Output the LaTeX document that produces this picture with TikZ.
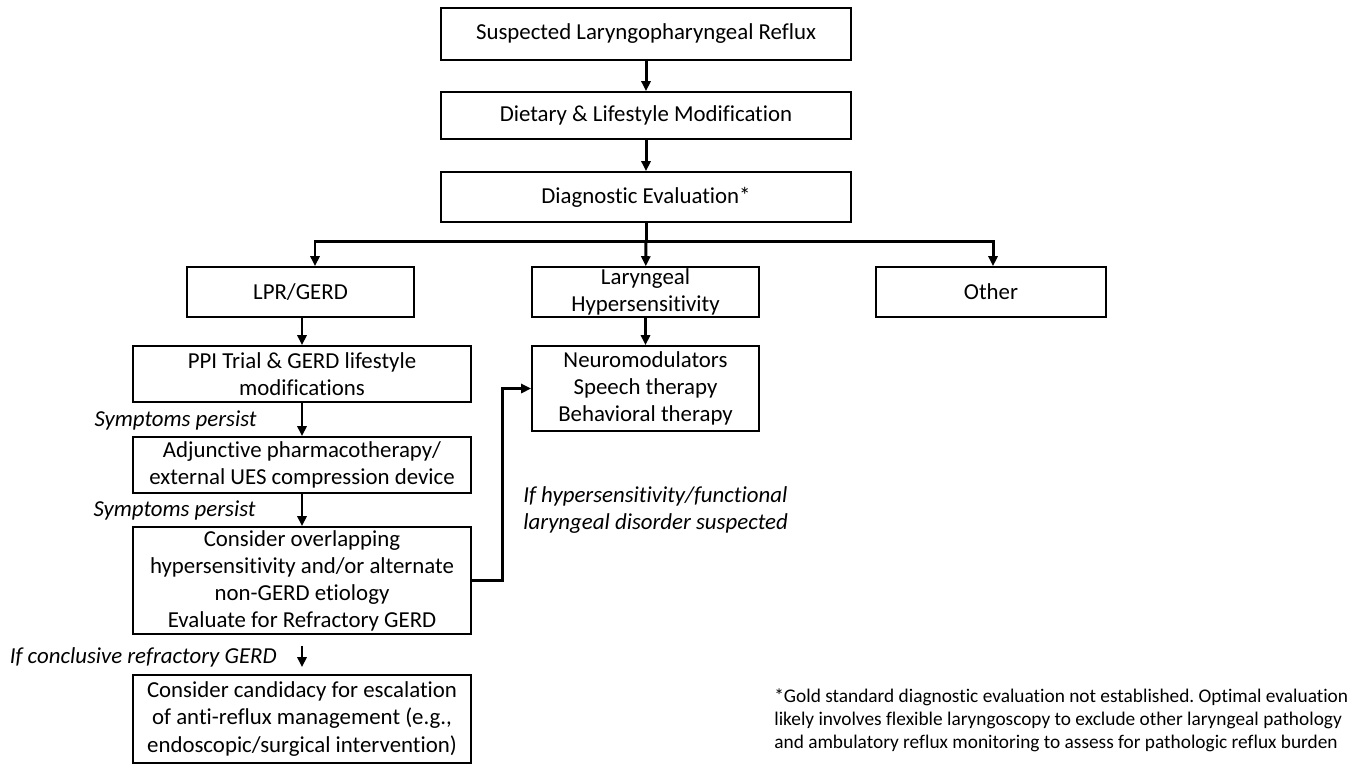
\documentclass[tikz,border=0pt]{standalone}
\usepackage{fontspec}
\setmainfont{Carlito}[Ligatures=NoCommon]
\usetikzlibrary{arrows.meta}
\frenchspacing

\begin{document}
\begin{tikzpicture}[x=0.2mm, y=-0.2mm,
    box/.style={draw=black, line width=0.9pt, inner sep=0pt, align=center,
        font=\fontsize{13}{15.4}\selectfont},
    conn/.style={line width=1.7pt, -{Triangle[length=2mm,width=1.8mm]}},
    trunk/.style={line width=1.7pt},
    hint/.style={inner sep=0pt, align=left, font=\fontsize{13}{15.4}\selectfont\itshape},
    note/.style={inner sep=0pt, align=left, font=\fontsize{11}{13}\selectfont}]
    \useasboundingbox (0,0) rectangle (1361,764);

    % Hauptkette oben
    \node[box, minimum width=82mm, minimum height=10.4mm] (susp) at (646,34) {Suspected Laryngopharyngeal Reflux};
    \node[box, minimum width=82mm, minimum height=9.4mm] (diet) at (646,115.5) {Dietary \& Lifestyle Modification};
    \node[box, minimum width=82mm, minimum height=10mm] (diag) at (646,197) {Diagnostic Evaluation*};

    % Drei Zweige
    \node[box, minimum width=45.4mm, minimum height=10mm] (lpr) at (300.5,292) {LPR/GERD};
    \node[box, minimum width=45.4mm, minimum height=10mm] (hyper) at (645.5,292) {Laryngeal\\Hypersensitivity};
    \node[box, minimum width=46mm, minimum height=10mm] (other) at (991,292) {Other};

    % Linker Zweig
    \node[box, minimum width=67.6mm, minimum height=11.2mm] (ppi) at (302,374) {PPI Trial \& GERD lifestyle\\modifications};
    \node[box, minimum width=67.6mm, minimum height=11.2mm] (adj) at (302,465) {Adjunctive pharmacotherapy/\\external UES compression device};
    \node[box, minimum width=67.6mm, minimum height=21.4mm] (overl) at (302,580.5) {Consider overlapping\\hypersensitivity and/or alternate\\non-GERD etiology\\Evaluate for Refractory GERD};
    \node[box, minimum width=67.6mm, minimum height=17.6mm] (cand) at (302,719) {Consider candidacy for escalation\\of anti-reflux management (e.g.,\\endoscopic/surgical intervention)};

    % Mittlerer Zweig
    \node[box, minimum width=45.4mm, minimum height=17mm] (neuro) at (645.5,388.5) {Neuromodulators\\Speech therapy\\Behavioral therapy};

    % Beschriftungen
    \node[hint, anchor=east] (persist1) at (257,420) {Symptoms persist};
    \node[hint, anchor=east] (persist2) at (256,510) {Symptoms persist};
    \node[hint, anchor=east] (ifrefr) at (277,657) {If conclusive refractory GERD};
    \node[hint, anchor=west] (ifhyper) at (523,510) {If hypersensitivity/functional\\laryngeal disorder suspected};
    \node[note, anchor=west] (footnote) at (774,720) {*Gold standard diagnostic evaluation not established. Optimal evaluation\\likely involves flexible laryngoscopy to exclude other laryngeal pathology\\and ambulatory reflux monitoring to assess for pathologic reflux burden};

    % Verbindungen
    \draw[conn] (susp) -- (diet);
    \draw[conn] (diet) -- (diag);
    \coordinate (split) at (646,241);
    \draw[trunk] (diag) -- (split);
    \draw[conn] (split) -| ([xshift=2.9mm]lpr.north);
    \draw[conn] (split) -- (hyper);
    \draw[conn] (split) -| ([xshift=0.4mm]other.north);
    \draw[conn] (ppi.north |- lpr.south) -- (ppi);
    \draw[conn] (hyper) -- (neuro);
    \draw[conn] (ppi) -- (adj);
    \draw[conn] (adj) -- (overl);
    \draw[conn, shorten <=2.2mm, shorten >=1.4mm] (overl) -- (cand);
    \draw[conn] (overl.east) -- ++(6.2mm,0) |- (neuro.west);
\end{tikzpicture}
\end{document}
